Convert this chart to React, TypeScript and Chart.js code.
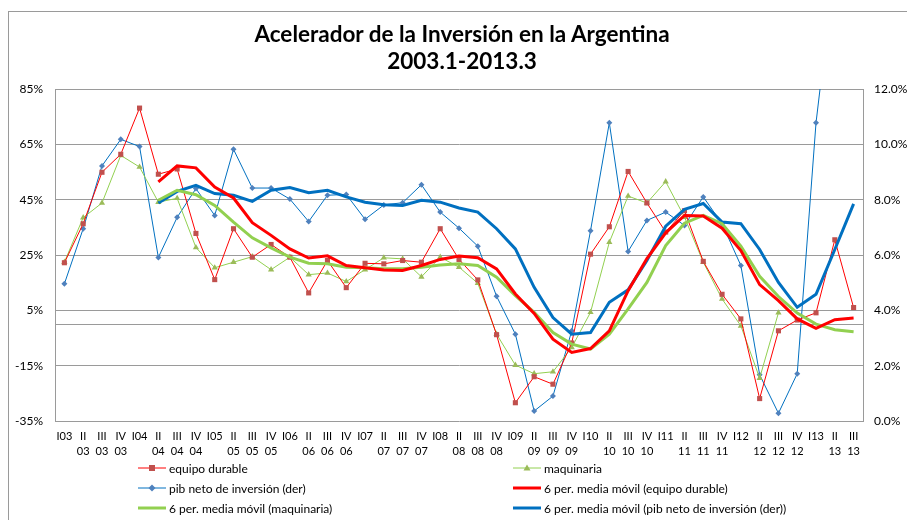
import React, { useEffect, useRef } from "react";
import { Chart, registerables } from "chart.js";

Chart.register(...registerables);

const quarterLabels: string[][] = [
  ["I03"], ["II", "03"], ["III", "03"], ["IV", "03"],
  ["I04"], ["II", "04"], ["III", "04"], ["IV", "04"],
  ["I05"], ["II", "05"], ["III", "05"], ["IV", "05"],
  ["I06"], ["II", "06"], ["III", "06"], ["IV", "06"],
  ["I07"], ["II", "07"], ["III", "07"], ["IV", "07"],
  ["I08"], ["II", "08"], ["III", "08"], ["IV", "08"],
  ["I09"], ["II", "09"], ["III", "09"], ["IV", "09"],
  ["I10"], ["II", "10"], ["III", "10"], ["IV", "10"],
  ["I11"], ["II", "11"], ["III", "11"], ["IV", "11"],
  ["I12"], ["II", "12"], ["III", "12"], ["IV", "12"],
  ["I13"], ["II", "13"], ["III", "13"],
];

// left axis (%)
const equipoDurable: (number | null)[] = [
  22.2, 36.3, 54.9, 61.4, 78.1, 54.2, 56.1, 32.8, 16.1, 34.5, 24.2, 28.8, 24.2,
  11.3, 23, 13.2, 22, 21.8, 23, 22.4, 34.5, 23.4, 16, -3.8, -28.4, -19, -21.7,
  -6.8, 25.3, 35.2, 55.2, 43.8, 33.3, 41, 22.7, 10.8, 1.9, -26.9, -2.4, 1.5,
  4.1, 30.5, 6,
];

const maquinaria: (number | null)[] = [
  22.4, 38.5, 43.8, 61, 56.8, 44.1, 45.5, 27.7, 20.4, 22.4, 24.4, 19.7, 24.2,
  17.9, 18.5, 15.4, 19.7, 24, 23.6, 17.1, 24.2, 20.6, 14.8, -3.6, -14.8, -17.9,
  -17.2, -8.4, 4.3, 29.6, 46.3, 43.8, 51.5, 38.7, 22.4, 9.1, -0.6, -19.5, 4.1,
  null, null, null, null,
];

// right axis (%)
const pibNetoInversion: (number | null)[] = [
  4.96, 6.95, 9.22, 10.18, 9.92, 5.91, 7.36, 8.4, 7.43, 9.82, 8.42, 8.42, 8.02,
  7.21, 8.16, 8.19, 7.29, 7.81, 7.89, 8.54, 7.55, 6.97, 6.32, 4.51, 3.14, 0.36,
  0.9, 3.26, 6.88, 10.78, 6.13, 7.25, 7.55, 7.07, 8.1, 7.13, 5.62, 1.67, 0.28,
  1.71, 10.78, 16.5, 16.3,
];

const mediaMovilEquipo: (number | null)[] = [
  null, null, null, null, null,
  51.4, 57.2, 56.5, 49.6, 45.6, 36.7, 32.1, 27.2, 23.9, 24.7, 21.2, 20.4, 19.6,
  19.4, 21.2, 23.4, 24.6, 24, 20, 10.9, 3.9, -5.4, -10.2, -8.8, -2.4, 12.1,
  23.7, 33, 39.3, 39.1, 34.7, 26.6, 14.3, 8.5, 1.9, -1.5, 1.6, 2.2,
];

const mediaMovilMaquinaria: (number | null)[] = [
  null, null, null, null, null,
  44.8, 48.4, 46.8, 42.9, 36.9, 31.2, 27.6, 24.2, 22, 21.8, 20.6, 20.4, 20, 20,
  20.6, 21.4, 21.8, 21.2, 17, 10.3, 4.3, -3, -7.2, -9, -3.6, 5.5, 15.1, 28.4,
  36.5, 39.3, 36.3, 28.2, 17.3, 10, 4, 0, -2, -2.7,
];

const mediaMovilPib: (number | null)[] = [
  null, null, null, null, null,
  7.88, 8.3, 8.52, 8.22, 8.16, 7.94, 8.34, 8.44, 8.25, 8.34, 8.1, 7.91, 7.82,
  7.79, 7.98, 7.91, 7.7, 7.55, 6.95, 6.22, 4.83, 3.74, 3.14, 3.2, 4.29, 4.74,
  5.8, 7.04, 7.65, 7.86, 7.19, 7.13, 6.2, 5.01, 4.11, 4.58, 6.2, 7.85,
];

const FONT = "Lato, 'Open Sans', sans-serif";

const zeroLinePlugin = {
  id: "zeroLine",
  beforeDatasetsDraw(chart: any) {
    const { ctx, chartArea } = chart;
    const y = chart.scales.y.getPixelForValue(0);
    ctx.save();
    ctx.strokeStyle = "#9a9a9a";
    ctx.lineWidth = 1;
    ctx.beginPath();
    ctx.moveTo(chartArea.left, Math.round(y) + 0.5);
    ctx.lineTo(chartArea.right, Math.round(y) + 0.5);
    ctx.stroke();
    ctx.restore();
  },
};

type LegendItem = {
  text: string;
  color: string;
  width: number;
  marker?: "rect" | "triangle" | "diamond";
  markerColor?: string;
};

const legendLeft: LegendItem[] = [
  { text: "equipo durable", color: "#FF0000", width: 1, marker: "rect", markerColor: "#C0504D" },
  { text: "pib neto de inversión (der)", color: "#0070C0", width: 1, marker: "diamond", markerColor: "#4F81BD" },
  { text: "6 per. media móvil (maquinaria)", color: "#92D050", width: 3 },
];
const legendRight: LegendItem[] = [
  { text: "maquinaria", color: "#92D050", width: 1, marker: "triangle", markerColor: "#9BBB59" },
  { text: "6 per. media móvil (equipo durable)", color: "#FF0000", width: 3 },
  { text: "6 per. media móvil (pib neto de inversión (der))", color: "#0070C0", width: 3 },
];

function Marker({ item }: { item: LegendItem }) {
  return (
    <svg width={28} height={10} style={{ display: "block" }}>
      <line x1={0} y1={5} x2={28} y2={5} stroke={item.color} strokeWidth={item.width} />
      {item.marker === "rect" && <rect x={11} y={2} width={6} height={6} fill={item.markerColor} />}
      {item.marker === "triangle" && <polygon points="14,1.5 17.5,7.5 10.5,7.5" fill={item.markerColor} />}
      {item.marker === "diamond" && <polygon points="14,1.5 17.5,5 14,8.5 10.5,5" fill={item.markerColor} />}
    </svg>
  );
}

function LegendColumn({ items, left }: { items: LegendItem[]; left: number }) {
  return (
    <>
      {items.map((it, i) => (
        <div
          key={it.text}
          style={{
            position: "absolute",
            left,
            top: 460 + i * 20,
            height: 16,
            display: "flex",
            alignItems: "center",
            fontFamily: FONT,
            fontSize: 12,
            color: "#000",
            whiteSpace: "nowrap",
          }}
        >
          <Marker item={it} />
          <span style={{ marginLeft: 3 }}>{it.text}</span>
        </div>
      ))}
    </>
  );
}

export default function App() {
  const canvasRef = useRef<HTMLCanvasElement | null>(null);

  useEffect(() => {
    if (!canvasRef.current) return;
    const chart = new Chart(canvasRef.current, {
      type: "line",
      data: {
        labels: quarterLabels as any,
        datasets: [
          {
            label: "6 per. media móvil (equipo durable)",
            data: mediaMovilEquipo,
            yAxisID: "y",
            borderColor: "#FF0000",
            borderWidth: 3,
            pointRadius: 0,
            order: 0,
          },
          {
            label: "6 per. media móvil (maquinaria)",
            data: mediaMovilMaquinaria,
            yAxisID: "y",
            borderColor: "#92D050",
            borderWidth: 3,
            pointRadius: 0,
            order: 0,
          },
          {
            label: "6 per. media móvil (pib neto de inversión (der))",
            data: mediaMovilPib,
            yAxisID: "y1",
            borderColor: "#0070C0",
            borderWidth: 3,
            pointRadius: 0,
            order: 0,
          },
          {
            label: "equipo durable",
            data: equipoDurable,
            yAxisID: "y",
            borderColor: "#FF0000",
            borderWidth: 1,
            pointStyle: "rect",
            pointRadius: 3.6,
            pointBackgroundColor: "#C0504D",
            pointBorderColor: "#C0504D",
            pointBorderWidth: 0,
            order: 1,
          },
          {
            label: "maquinaria",
            data: maquinaria,
            yAxisID: "y",
            borderColor: "#92D050",
            borderWidth: 1,
            pointStyle: "triangle",
            pointRadius: 3.6,
            pointBackgroundColor: "#9BBB59",
            pointBorderColor: "#9BBB59",
            pointBorderWidth: 0,
            order: 1,
          },
          {
            label: "pib neto de inversión (der)",
            data: pibNetoInversion,
            yAxisID: "y1",
            borderColor: "#0070C0",
            borderWidth: 1,
            pointStyle: "rectRot",
            pointRadius: 3,
            pointBackgroundColor: "#4F81BD",
            pointBorderColor: "#4F81BD",
            pointBorderWidth: 0,
            order: 1,
          },
        ],
      },
      options: {
        responsive: false,
        animation: false,
        devicePixelRatio: 1,
        spanGaps: false,
        layout: { padding: { top: 89, bottom: 59, left: 0, right: 0 } },
        plugins: {
          legend: { display: false },
          title: { display: false },
          tooltip: { enabled: false },
        },
        elements: { line: { tension: 0 } },
        scales: {
          x: {
            type: "category",
            offset: true,
            grid: { display: false, drawTicks: false },
            border: { display: false },
            ticks: {
              autoSkip: false,
              maxRotation: 0,
              minRotation: 0,
              padding: 7,
              color: "#000",
              font: { family: FONT, size: 11, lineHeight: 1.45 },
            },
            afterFit: (s: any) => {
              s.height = 40;
            },
          },
          y: {
            type: "linear",
            position: "left",
            min: -35,
            max: 85,
            grid: { color: "#9a9a9a", lineWidth: 1, drawTicks: false },
            border: { display: true, color: "#9a9a9a", width: 1 },
            ticks: {
              stepSize: 20,
              padding: 12,
              color: "#000",
              font: { family: FONT, size: 12 },
              callback: (v: any) => `${v}%`,
            },
            afterFit: (s: any) => {
              s.width = 55;
            },
          },
          y1: {
            type: "linear",
            position: "right",
            min: 0,
            max: 12,
            grid: { display: false, drawTicks: false },
            border: { display: true, color: "#9a9a9a", width: 1 },
            ticks: {
              stepSize: 2,
              padding: 11,
              color: "#000",
              font: { family: FONT, size: 12 },
              callback: (v: any) => `${Number(v).toFixed(1)}%`,
            },
            afterFit: (s: any) => {
              s.width = 44;
            },
          },
        },
      },
      plugins: [zeroLinePlugin],
    });
    return () => chart.destroy();
  }, []);

  return (
    <div style={{ position: "absolute", left: 0, top: 0, width: 907, height: 520, overflow: "hidden", background: "#fff" }}>
      <div
        style={{
          position: "absolute",
          left: 8,
          top: 11,
          width: 1000,
          height: 600,
          borderLeft: "1px solid #9a9a9a",
          borderTop: "1px solid #9a9a9a",
        }}
      />
      <canvas ref={canvasRef} width={907} height={520} style={{ position: "absolute", left: 0, top: 0, width: 907, height: 520 }} />
      <div
        style={{
          position: "absolute",
          left: 0,
          width: 924,
          top: 20,
          textAlign: "center",
          fontFamily: FONT,
          fontWeight: 700,
          fontSize: 22.5,
          lineHeight: "27px",
          color: "#000",
        }}
      >
        <div>Acelerador de la Inversión en la Argentina</div>
        <div>2003.1-2013.3</div>
      </div>
      <LegendColumn items={legendLeft} left={138} />
      <LegendColumn items={legendRight} left={513} />
    </div>
  );
}
